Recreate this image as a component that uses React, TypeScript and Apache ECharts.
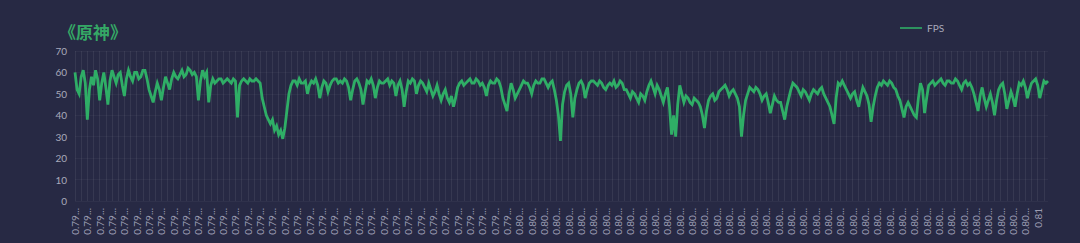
import React, { useEffect, useRef } from "react";
import * as echarts from "echarts";

const TITLE = "《原神》";
const SERIES_NAME = "FPS";

// FPS samples (left to right)
const fps: number[] = [
  60, 52, 50, 58, 61, 55, 38, 52, 58, 54, 61, 57, 47, 55, 60, 53, 45, 56, 61, 58, 55, 59, 60, 54, 49, 57, 61, 58, 56, 60,
  60, 57, 58, 61, 61, 57, 52, 49, 46, 51, 55, 52, 47, 53, 58, 55, 52, 57, 60, 58, 57, 59, 61, 58, 59, 62, 61, 59, 60, 58, 47, 56, 61, 58, 60,
  46, 54, 57, 55, 56, 57, 57, 55, 56, 57, 56, 55, 57, 56, 39, 54, 56, 57, 56, 55, 57, 56, 56, 57, 56, 55,
  48, 44, 40, 38, 36, 38, 33, 35, 31, 33, 29, 34, 42, 50, 54, 56,
  56, 54, 57, 55, 55, 56, 50, 54, 56, 55, 57, 54, 48, 53, 56, 55, 51, 54, 56, 57, 57, 55, 56, 55, 57, 56, 53, 47, 52, 56, 57, 55, 52, 45, 51, 56, 55, 57, 54, 48, 53, 56, 55, 55, 56, 57, 54, 56, 55, 49, 54, 56, 52, 44, 51, 56, 55, 57, 56, 50, 54, 56, 55,
  53, 51, 55, 52, 49, 51, 54, 50, 47, 50, 52, 48, 46, 49, 44, 48, 53, 55, 56, 54, 55, 56, 57, 55, 55, 57, 56, 54, 55, 53, 49, 54, 56, 55, 55, 57, 56, 53, 48, 45, 42, 50, 55, 52, 48, 50, 52, 54, 56, 55, 55, 53, 50, 54, 56, 55, 55, 57, 57, 55, 53, 55, 56, 52, 47, 40, 28, 45, 51, 54, 55, 50, 39, 48, 52, 55, 56, 54, 48, 52, 55, 56, 56, 55, 54, 56,
  55, 53, 52, 54, 55, 54, 56, 53, 54, 56, 55, 52, 52, 50, 48, 51, 50, 48, 46, 50, 49, 47, 51, 54, 56, 53, 50, 54, 52, 49, 46, 50, 53, 44, 31, 40, 30, 45, 54, 50, 46, 49, 48, 46, 45, 48, 47, 46, 44, 40, 34, 42, 47, 49, 50, 47, 48, 51, 52, 53, 54, 52, 49, 51, 52, 50, 48, 44, 30, 40, 47, 50, 53, 52, 51, 53, 52, 50, 47, 49, 50, 46, 41, 45, 49, 47, 46,
  46, 42, 38, 44, 48, 52, 55, 54, 53, 51, 49, 52, 51, 49, 47, 50, 52, 51, 50, 52, 53, 50, 48, 46, 44, 40, 36, 48, 55, 54, 56, 54, 52, 50, 48, 50, 51, 47, 44, 49, 53, 51, 49, 45, 37, 44, 49, 53, 55, 54, 56, 55, 54, 56, 55, 53, 52, 49, 47, 43, 39, 44, 46, 44, 42, 40, 39, 48, 55, 52, 41, 48, 54, 55, 56, 54, 55, 56, 57, 55, 54, 56, 56, 55, 55, 57,
  56, 54, 52, 55, 56, 54, 55, 53, 50, 46, 42, 49, 53, 48, 44, 47, 50, 46, 40, 47, 52, 54, 55, 50, 43, 47, 51, 48, 44, 50, 55, 54, 56, 53, 48, 52, 55, 56, 57, 54, 48, 52, 56, 55, 56,
];

// tick label prefixes and how many labelled ticks carry each
const labelPrefixes = ["0.79", "0.80", "0.81"];
const labelCounts = [36, 42, 1];
const LABEL_STEP = 6;
const GRID_STEP = 3;

const yTicks = [0, 10, 20, 30, 40, 50, 60, 70];

function buildCategories(n: number): string[] {
  const out: string[] = [];
  const lastTick = labelCounts.reduce((a, b) => a + b, 0) - 1;
  for (let i = 0; i < n; i++) {
    const tick = Math.floor(i / LABEL_STEP);
    let acc = 0;
    let p = labelPrefixes[labelPrefixes.length - 1];
    for (let k = 0; k < labelCounts.length; k++) {
      acc += labelCounts[k];
      if (tick < acc) {
        p = labelPrefixes[k];
        break;
      }
    }
    out.push(i === lastTick * LABEL_STEP ? p : p + String(i % 100).padStart(2, "0"));
  }
  return out;
}

export default function App() {
  const ref = useRef<HTMLDivElement>(null);
  useEffect(() => {
    document.body.style.margin = "0";
    if (!ref.current) return;
    const chart = echarts.init(ref.current, null, { renderer: "svg" });
    const categories = buildCategories(fps.length);
    chart.setOption({
      animation: false,
      backgroundColor: "#272944",
      title: {
        text: TITLE,
        left: 54,
        top: 18,
        textStyle: { color: "#35a866", fontSize: 17, fontWeight: "bold", fontFamily: "Noto Sans CJK SC" },
      },
      legend: {
        data: [SERIES_NAME],
        left: 895,
        top: 18,
        itemWidth: 22,
        itemHeight: 8,
        itemGap: 4,
        icon: "path://M0,4L22,4L22,5.6L0,5.6Z",
        textStyle: { color: "#a9aabb", fontSize: 10, fontFamily: "Lato" },
      },
      grid: { left: 75, right: 32, top: 51, bottom: 42, containLabel: false },
      xAxis: {
        type: "category",
        data: categories,
        boundaryGap: false,
        axisLine: { show: false },
        axisTick: { show: false },
        axisLabel: {
          interval: LABEL_STEP - 1,
          rotate: 90,
          margin: 7,
          color: "#9c9db3",
          fontSize: 10,
          fontFamily: "Lato",
          formatter: (v: string) => (v.length > 4 ? v.slice(0, 4) + "..." : v),
        },
        splitLine: {
          show: true,
          interval: GRID_STEP - 1,
          lineStyle: { color: "rgba(255,255,255,0.07)", width: 1 },
        },
      },
      yAxis: {
        type: "value",
        min: yTicks[0],
        max: yTicks[yTicks.length - 1],
        interval: 10,
        axisLine: { show: false },
        axisTick: { show: false },
        axisLabel: { color: "#a9aabb", fontSize: 10, margin: 8, fontFamily: "Lato" },
        splitLine: { lineStyle: { color: "rgba(255,255,255,0.04)" } },
      },
      series: [
        {
          name: SERIES_NAME,
          type: "line",
          data: fps,
          symbol: "none",
          color: "#2fae66",
          lineStyle: { width: 2.8, color: "#2fae66", join: "miter" },
        },
      ],
    });
    return () => chart.dispose();
  }, []);
  return <div ref={ref} style={{ width: 1080, height: 243 }} />;
}
